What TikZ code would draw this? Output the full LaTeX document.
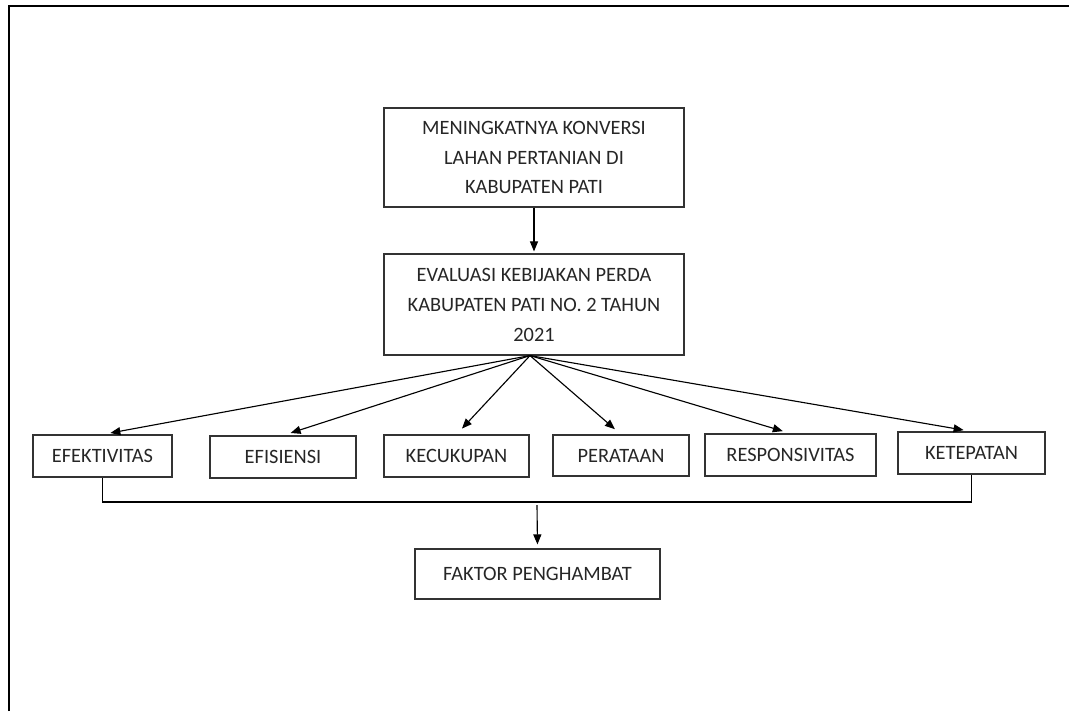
\documentclass[tikz,border=0pt]{standalone}
\usepackage{fontspec}
\setmainfont{Carlito}
\usetikzlibrary{arrows.meta}
\begin{document}
\begin{tikzpicture}[x=0.025cm,y=-0.025cm,
box/.style={draw=black!80,line width=0.8pt,align=center,inner sep=0pt,
  font=\fontsize{14.5}{21.3}\selectfont,text=black!85},
arr/.style={line width=0.8pt,-{Triangle[length=2.5mm,width=2mm]}}
]
\useasboundingbox (0,0) rectangle (1069,711);
% frame
\draw[line width=1.4pt] (9,711) -- (9,6) -- (1069,6);
\node[box,minimum width=7.5cm,minimum height=2.475cm] (konversi) at (534,157.5)
  {MENINGKATNYA KONVERSI\\LAHAN PERTANIAN DI\\KABUPATEN PATI};
\node[box,minimum width=7.5cm,minimum height=2.525cm] (evaluasi) at (534,304.5)
  {EVALUASI KEBIJAKAN PERDA\\KABUPATEN PATI NO. 2 TAHUN\\2021};
\draw[arr,shorten >=0.05cm] (konversi) -- (evaluasi);
% indikator
\node[box,minimum width=3.475cm,minimum height=1.05cm] (efek) at (102.5,456) {EFEKTIVITAS};
\node[box,minimum width=3.65cm,minimum height=1.05cm] (efis) at (283,457) {EFISIENSI};
\node[box,minimum width=3.625cm,minimum height=1.05cm] (kecu) at (456.5,456) {KECUKUPAN};
\node[box,minimum width=3.4cm,minimum height=1.025cm] (pera) at (621,455.5) {PERATAAN};
\node[box,minimum width=4.275cm,minimum height=1.05cm] (resp) at (790.5,455) {RESPONSIVITAS};
\node[box,minimum width=3.675cm,minimum height=1.05cm] (kete) at (971.5,453) {KETEPATAN};
\coordinate (hub) at ([xshift=-0.1cm]evaluasi.south);
\foreach \n in {efek,efis,kecu,pera,resp,kete}
  \draw[arr,shorten >=0.2cm] (hub) -- (\n.north);
% faktor
\node[box,minimum width=6.125cm,minimum height=1.25cm] (faktor) at (537.5,574) {FAKTOR PENGHAMBAT};
\coordinate (bus) at (537,502);
\draw[line width=0.8pt] (efek.south) |- (bus) -| (kete.south);
\draw[arr,shorten >=0.1cm] ([yshift=-0.08cm]bus) -- (faktor.north);
\end{tikzpicture}
\end{document}
